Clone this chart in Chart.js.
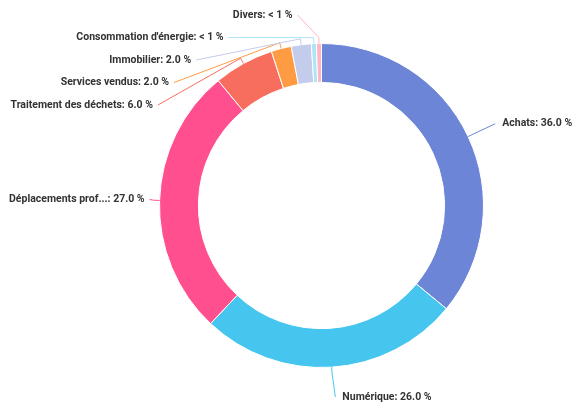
<!DOCTYPE html>
<html>
<head>
<meta charset="utf-8">
<script src="https://cdn.jsdelivr.net/npm/chart.js@4"></script>
<style>
  html, body { margin: 0; padding: 0; background: #fff; }
  #wrap { width: 577px; height: 405px; position: relative; }
</style>
</head>
<body>
<div id="wrap"><canvas id="chart"></canvas></div>
<script>
// Data
const categories = ['Achats', 'Numérique', 'Déplacements professionnels', 'Traitement des déchets',
  'Services vendus', 'Immobilier', "Consommation d'énergie", 'Divers'];
const shares = [36, 26, 27, 6, 2, 2, 0.5, 0.5];
const colors = ['#6d85d6', '#46c5ef', '#ff4f8e', '#f76d5e', '#ff9b42', '#c4ccec', '#ace4f8', '#ffb5c3'];

// Label layout
const labelFont = 'bold 10.5px Roboto';
const labelColor = '#333';
const labelDist = 30;   // label ring distance from outer edge
const elbow = 6;        // first leg of the leader line
const rowH = 22.5;      // min vertical spacing between labels
const topY = 15;
const bottomPad = 8;
const sideMargin = 9;

function labelText(i) {
  let name = categories[i];
  if (name.length > 24) name = name.slice(0, 17) + '...';
  const v = shares[i];
  const pct = v < 1 ? '< 1 %' : v.toFixed(1) + ' %';
  return name + ': ' + pct;
}

const outsideLabels = {
  id: 'outsideLabels',
  afterDatasetsDraw(chart) {
    const ctx = chart.ctx;
    const meta = chart.getDatasetMeta(0);
    const items = [];
    meta.data.forEach((arc, i) => {
      const p = arc.getProps(['x', 'y', 'startAngle', 'endAngle', 'outerRadius'], true);
      const mid = (p.startAngle + p.endAngle) / 2;
      const cos = Math.cos(mid), sin = Math.sin(mid);
      items.push({
        i, cx: p.x, cy: p.y, r: p.outerRadius, cos, sin,
        right: cos >= 0,
        y: p.y + (p.outerRadius + labelDist) * sin
      });
    });

    // push overlapping labels down, per side
    [true, false].forEach(side => {
      const list = items.filter(it => it.right === side).sort((a, b) => a.y - b.y);
      let last = -Infinity;
      list.forEach(it => {
        it.y = Math.max(it.y, topY, last + rowH);
        it.y = Math.min(it.y, chart.height - bottomPad);
        last = it.y;
      });
    });

    ctx.save();
    ctx.font = labelFont;
    ctx.textBaseline = 'middle';
    items.forEach(it => {
      const text = labelText(it.i);
      const tw = ctx.measureText(text).width;
      const gap = it.right ? 7 : 5;
      const R2 = it.r + labelDist;
      const dy = it.y - it.cy;
      const dx = Math.sqrt(Math.max(R2 * R2 - dy * dy, 0));
      let ax = it.cx + (it.right ? dx : -dx);
      // keep text inside the canvas
      if (it.right) ax = Math.min(ax, chart.width - 2 - tw - gap);
      else ax = Math.max(ax, sideMargin + tw + gap);
      const x0 = it.cx + it.r * it.cos, y0 = it.cy + it.r * it.sin;
      const x1 = it.cx + (it.r + elbow) * it.cos, y1 = it.cy + (it.r + elbow) * it.sin;

      ctx.strokeStyle = colors[it.i];
      ctx.lineWidth = 1;
      ctx.beginPath();
      ctx.moveTo(x0, y0);
      ctx.lineTo(x1, y1);
      ctx.lineTo(ax, it.y);
      ctx.stroke();

      ctx.fillStyle = labelColor;
      ctx.textAlign = it.right ? 'left' : 'right';
      ctx.fillText(text, ax + (it.right ? gap : -gap), it.y);
    });
    ctx.restore();
  }
};

new Chart(document.getElementById('chart'), {
  type: 'doughnut',
  data: {
    labels: categories,
    datasets: [{
      data: shares,
      backgroundColor: colors,
      borderColor: '#fff',
      borderWidth: 1
    }]
  },
  options: {
    responsive: true,
    maintainAspectRatio: false,
    animation: false,
    cutout: '76%',
    layout: { padding: { left: 159, right: 93, top: 43, bottom: 37 } },
    plugins: {
      legend: { display: false },
      tooltip: { enabled: false }
    }
  },
  plugins: [outsideLabels]
});
</script>
</body>
</html>
